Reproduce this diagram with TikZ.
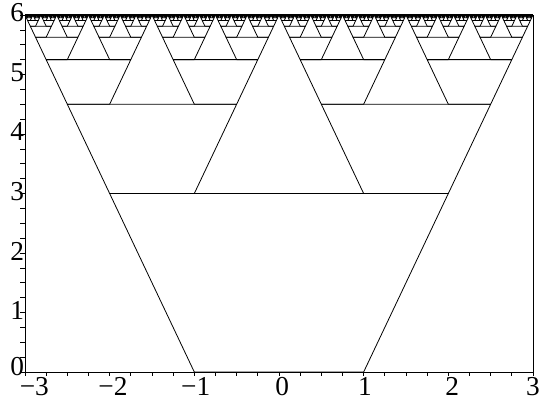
\documentclass[tikz,border=0pt]{standalone}
\usepackage{fontspec}
\setmainfont{Liberation Serif}
\usepackage{tikz}

\begin{document}
\begin{tikzpicture}[
    x=63.5pt, y=44.625pt,
    frac/.style={line width=0.6pt, line join=bevel},
    axis/.style={line width=0.7pt},
    tickmark/.style={line width=0.5pt},
    lbl/.style={font=\fontsize{20.5}{20.5}\selectfont, inner sep=0pt}
]
\useasboundingbox (-3.295,-0.521) rectangle (3.071,6.252);

% trapezoids of the tree, level by level
\foreach \n in {0,...,9}{
    \pgfmathsetmacro\h{1/2^\n}
    \pgfmathtruncatemacro\kmax{2^\n-1}
    \foreach \k in {0,...,\kmax}{
        \pgfmathsetmacro\c{(6*\k+3)*\h-3}
        \draw[frac] (\c-\h,6-6*\h) -- (\c+\h,6-6*\h) -- (\c+2*\h,6-3*\h) -- (\c-2*\h,6-3*\h) -- cycle;
    }
}

% axes and frame
\coordinate (o) at (-3,0);
\coordinate (xe) at (3,0);
\coordinate (ye) at (-3,6);
\coordinate (re) at (3,6);
\draw[axis] (o) -- (xe);
\draw[axis] (o) -- (ye);
\draw[axis] (xe) -- (re);
\draw[line width=1.5pt] (ye) -- (re);

% ticks
\foreach \i in {0,...,24}{
    \draw[tickmark] (-3+\i/4,0) -- ++(0,-3pt);
    \draw[tickmark] (-3,\i/4) -- ++(-3.75pt,0);
}

% labels
\foreach \v/\dx [count=\i] in {-3/7pt,-2/2.5pt,-1/1pt,0/2.5pt,1/1pt,2/3pt,3/0pt}{
    \node[lbl, anchor=north, xshift=\dx] (xlab\i) at (\v,-4pt) {\ifnum\v<0 −\the\numexpr-\v\relax\else\v\fi};
}
\foreach \v/\dy [count=\i] in {0/4pt,1/1.5pt,2/1.5pt,3/1.5pt,4/1.5pt,5/1.5pt,6/1.5pt}{
    \node[lbl, anchor=east, xshift=-0.5pt, yshift=\dy] (ylab\i) at (-3,\v) {\v};
}
\end{tikzpicture}
\end{document}
